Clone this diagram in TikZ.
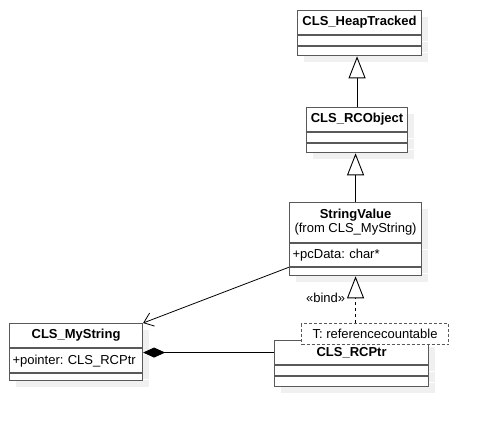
\documentclass[tikz,border=0pt]{standalone}
\usepackage{fontspec}
\setmainfont{Liberation Sans}
\frenchspacing
\usetikzlibrary{positioning,arrows.meta,shadows}

\tikzset{
  cls/.style={draw=black!65, line width=1.1pt, fill=white, inner sep=0pt,
    drop shadow={shadow xshift=6pt, shadow yshift=-6pt, fill=black!6, opacity=1}},
  ttl/.style={cls, font=\fontsize{13}{15}\selectfont\bfseries, align=center},
  att/.style={cls, font=\fontsize{13}{15}\selectfont, align=left, inner xsep=3pt},
  gen/.style={line width=0.9pt, -{Triangle[open, length=22pt, width=17pt]}},
}

\begin{document}
\begin{tikzpicture}[x=1pt, y=-1pt]
\useasboundingbox (0,0) rectangle (478,424);

\node[ttl, anchor=north west, minimum width=124pt, minimum height=24pt] (ht) at (297,10) {CLS\_HeapTracked};
\node[cls, below=0pt of ht, minimum width=124pt, minimum height=10pt] (ht-a) {};
\node[cls, below=0pt of ht-a, minimum width=124pt, minimum height=9pt] (ht-m) {};

\node[ttl, anchor=north west, minimum width=101pt, minimum height=24pt] (rc) at (306,107) {CLS\_RCObject};
\node[cls, below=0pt of rc, minimum width=101pt, minimum height=10pt] (rc-a) {};
\node[cls, below=0pt of rc-a, minimum width=101pt, minimum height=9pt] (rc-m) {};

\node[ttl, anchor=north west, minimum width=132pt, minimum height=40pt] (sv) at (289,202)
  {StringValue\\[-1pt]{\normalfont (from CLS\_MyString)}};
\node[att, below=0pt of sv, text width=126pt, minimum height=23pt] (sv-a) {+pcData: char*};
\node[cls, below=0pt of sv-a, minimum width=132pt, minimum height=8pt] (sv-m) {};

\node[ttl, anchor=north west, minimum width=133pt, minimum height=24pt] (ms) at (9,323) {CLS\_MyString};
\node[att, below=0pt of ms, text width=127pt, minimum height=24pt] (ms-a) {+pointer: CLS\_RCPtr};
\node[cls, below=0pt of ms-a, minimum width=133pt, minimum height=7pt] (ms-m) {};

\node[ttl, anchor=north west, minimum width=154pt, minimum height=24pt] (rp) at (274,340) {CLS\_RCPtr};
\node[cls, below=0pt of rp, minimum width=154pt, minimum height=10pt] (rp-a) {};
\node[cls, below=0pt of rp-a, minimum width=154pt, minimum height=10pt] (rp-m) {};

\node[draw=black!65, line width=1.1pt, dash pattern=on 3pt off 2pt, fill=white, inner sep=0pt,
  anchor=north west, minimum width=147pt, minimum height=21pt,
  font=\fontsize{13}{15}\selectfont] (tp) at (301,323) {T: referencecountable};

% generalizations
\draw[gen] (rc.north) -- (rc.north |- ht-m.south);
\draw[gen] (sv.north) -- (sv.north |- rc-m.south);
% template binding
\draw[gen, dashed] (tp.north -| sv-m.south) -- node[pos=0.54, left=10pt, inner sep=0pt,
  font=\fontsize{13}{15}\selectfont] {«bind»} (sv-m.south);

\draw[line width=0.8pt, -{Straight Barb[length=9pt, width=14pt]}] (sv-a.south west) -- (ms.north east);
\draw[line width=0.8pt, {Diamond[length=22pt, width=10pt]}-] (rp.west -| ms-a.east) -- (rp.west);
\end{tikzpicture}
\end{document}
